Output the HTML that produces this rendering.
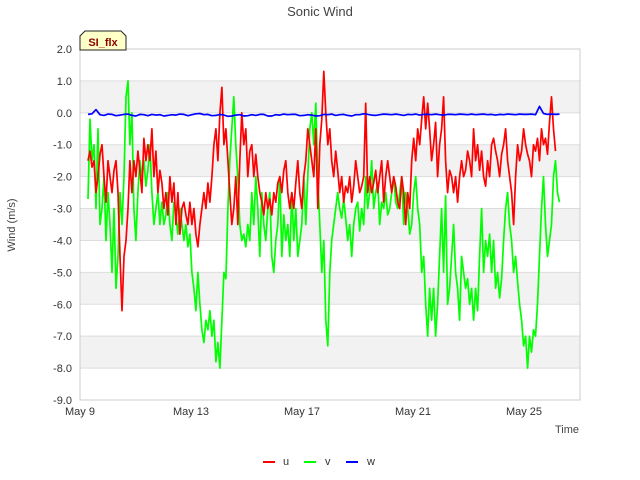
<!DOCTYPE html>
<html><head><meta charset="utf-8"><style>
body{margin:0;background:#fff;}
svg{display:block;font-family:"Liberation Sans","DejaVu Sans",sans-serif;}
</style></head><body>
<svg id="chart" width="640" height="480">
<text x="320" y="16" text-anchor="middle" font-size="13" fill="#444">Sonic Wind</text>
<g id="bands"></g>
<g id="grid"></g>
<rect x="80" y="49" width="500" height="351" fill="none" stroke="#ccc"/>
<g id="yticks"></g>
<g id="xticks"></g>
<g id="series"></g>
<text x="15" y="225" transform="rotate(-90 15 225)" text-anchor="middle" font-size="11" fill="#444">Wind (m/s)</text>
<text x="579" y="433" text-anchor="end" font-size="11" fill="#444">Time</text>
<g>
<path d="M80,50 L80,36 L85,31 L121,31 L126,36 L126,50 Z" fill="#ffffc8" stroke="#222" stroke-width="1"/>
<text x="103" y="46" text-anchor="middle" font-size="11" font-weight="bold" fill="#8b0000">SI_flx</text>
</g>
<g>
<g><line x1="263" y1="462" x2="275" y2="462" stroke="#f00" stroke-width="2"/><text x="283" y="465" font-size="11" fill="#333">u</text></g>
<g><line x1="304" y1="462" x2="316" y2="462" stroke="#0f0" stroke-width="2"/><text x="325" y="465" font-size="11" fill="#333">v</text></g>
<g><line x1="346" y1="462" x2="358" y2="462" stroke="#00f" stroke-width="2"/><text x="367" y="465" font-size="11" fill="#333">w</text></g>
</g>
</svg>
<script>
const yTicks=[2,1,0,-1,-2,-3,-4,-5,-6,-7,-8,-9];
const xTickDays=[0,4,8,12,16];
const xTickLabels=["May 9","May 13","May 17","May 21","May 25"];
const t0=0.288, dt=0.072, wdt=0.144;
const uVals=[-1.5,-1.2,-1.7,-1.5,-2.5,-2.0,-1.3,-1.0,-2.0,-2.8,-1.5,-2.0,-2.5,-1.8,-1.5,-2.5,-4.5,-6.2,-4.5,-4.0,-3.0,-1.5,-2.5,-1.5,-2.0,-1.2,-1.8,-2.5,-0.8,-1.5,-1.0,-1.5,-0.5,-2.0,-1.2,-2.5,-1.8,-2.2,-3.0,-2.5,-3.2,-2.0,-2.8,-2.2,-3.5,-2.5,-3.8,-3.0,-2.8,-3.2,-3.5,-2.8,-3.5,-3.0,-3.8,-4.2,-3.5,-3.0,-2.5,-3.0,-2.2,-2.8,-2.0,-1.0,-0.5,-1.5,0.0,0.8,-1.0,-0.5,-1.5,-2.5,-3.5,-3.0,-2.0,-3.5,-1.5,0.0,-1.0,-0.5,-2.0,-1.2,-1.0,-2.0,-1.3,-2.0,-2.5,-2.8,-3.2,-2.5,-3.0,-2.7,-3.2,-2.5,-2.8,-2.2,-2.0,-2.5,-1.8,-1.5,-2.5,-3.0,-2.5,-3.0,-2.2,-1.5,-2.5,-3.0,-2.0,-1.5,-0.5,-1.0,-1.5,-2.0,-0.5,-3.0,-1.0,-0.2,1.3,0.0,-1.0,-0.5,-1.5,-2.0,-1.2,-1.8,-2.5,-2.0,-2.8,-2.3,-2.5,-2.0,-2.8,-2.3,-1.5,-2.0,-2.5,-2.3,-2.0,0.3,-2.5,-2.0,-2.5,-2.2,-1.8,-2.5,-2.0,-1.5,-2.8,-2.0,-1.5,-2.0,-2.5,-2.0,-2.3,-2.8,-3.0,-2.0,-2.5,-3.5,-2.5,-3.0,-1.5,-0.8,-1.5,-0.5,-1.0,-0.2,0.5,-0.5,0.3,-0.5,-1.5,-1.0,-0.3,-2.0,-1.0,-0.5,0.5,-1.5,-2.5,-1.8,-2.0,-2.5,-2.0,-2.8,-2.0,-1.5,-2.0,-1.8,-1.2,-1.5,-2.0,-0.5,-1.5,-1.0,-1.8,-1.2,-2.0,-2.3,-1.5,-2.0,-1.0,-0.8,-1.2,-1.5,-2.0,-1.3,-1.0,-0.5,-1.5,-2.0,-2.5,-3.5,-2.0,-1.0,-1.5,-1.2,-0.5,-1.0,-1.3,-1.5,-2.0,-1.0,-1.2,-0.8,-1.5,-0.5,-1.0,-0.8,-1.3,-0.3,0.5,-0.5,-1.2];
const vVals=[-2.7,-0.2,-1.5,-1.0,-3.0,-0.5,-3.5,-3.0,-2.0,-4.0,-2.5,-3.5,-5.0,-3.0,-5.5,-4.5,-2.5,-3.5,-2.0,0.5,1.0,-1.0,0.0,-3.0,-4.0,-2.5,-1.5,-2.0,-1.5,-2.3,-1.8,-1.0,-2.5,-3.5,-3.0,-2.5,-3.5,-2.8,-3.5,-3.2,-2.5,-3.5,-4.0,-2.8,-3.2,-3.8,-3.0,-3.5,-4.0,-3.5,-4.2,-3.8,-5.0,-5.5,-6.2,-5.0,-6.0,-6.8,-7.2,-6.5,-6.8,-6.2,-7.0,-6.5,-7.8,-7.2,-8.0,-6.5,-5.0,-5.2,-3.0,-1.5,-0.5,0.5,-1.0,-2.0,-3.5,-4.0,-3.8,-4.2,-3.5,-4.0,-2.5,-3.5,-2.0,-3.0,-4.5,-2.5,-3.5,-4.0,-3.0,-2.5,-4.5,-5.0,-4.0,-3.5,-2.0,-4.5,-3.2,-4.0,-3.5,-4.5,-2.5,-4.0,-3.0,-4.5,-4.0,-3.5,-2.0,-3.5,-2.0,-0.5,0.0,-1.0,0.3,-2.0,-3.5,-5.0,-4.0,-6.5,-7.3,-5.0,-4.0,-3.5,-3.0,-2.5,-3.0,-3.3,-2.7,-3.3,-4.0,-3.5,-4.5,-3.5,-3.0,-2.8,-3.7,-3.0,-3.5,-2.0,-3.0,-2.5,-1.5,-3.0,-2.5,-2.2,-3.5,-2.8,-3.0,-2.5,-3.2,-3.0,-2.5,-2.0,-2.8,-3.0,-2.5,-2.0,-3.5,-2.5,-3.0,-3.8,-3.5,-2.5,-2.0,-3.0,-3.5,-5.0,-4.5,-6.0,-7.0,-5.5,-6.5,-5.5,-7.0,-6.0,-4.5,-3.0,-5.0,-2.6,-6.0,-5.5,-4.5,-3.5,-5.0,-5.5,-6.5,-4.5,-5.0,-5.5,-5.2,-6.0,-5.5,-6.5,-5.5,-6.2,-4.5,-3.0,-5.0,-4.0,-4.5,-3.8,-5.0,-4.0,-5.5,-5.0,-5.8,-5.2,-4.0,-3.0,-2.5,-3.5,-4.0,-5.0,-4.5,-5.3,-6.0,-6.5,-7.3,-7.0,-8.0,-7.0,-7.5,-6.8,-7.0,-6.0,-4.5,-3.0,-2.0,-3.5,-4.5,-4.0,-3.5,-2.0,-1.5,-2.5,-2.8];
const wVals=[-0.05,-0.03,0.1,-0.06,-0.08,-0.04,-0.05,-0.09,-0.07,-0.05,-0.04,-0.08,-0.1,-0.05,-0.06,-0.09,-0.05,-0.07,-0.06,-0.1,-0.08,-0.06,-0.07,-0.04,-0.05,-0.09,-0.06,-0.03,-0.02,-0.06,-0.05,-0.09,-0.08,-0.05,-0.07,-0.11,-0.1,-0.07,-0.06,-0.1,-0.09,-0.06,-0.08,-0.05,-0.05,-0.1,-0.1,-0.06,-0.07,-0.04,-0.06,-0.05,-0.05,-0.09,-0.08,-0.06,-0.07,-0.1,-0.09,-0.05,-0.06,-0.04,-0.08,-0.06,-0.05,-0.08,-0.1,-0.06,-0.06,-0.03,-0.05,-0.07,-0.08,-0.06,-0.04,-0.05,-0.06,-0.04,-0.06,-0.08,-0.05,-0.06,-0.04,-0.07,-0.05,-0.05,-0.06,-0.04,-0.06,-0.07,-0.05,-0.05,-0.06,-0.04,-0.05,-0.06,-0.04,-0.06,-0.05,-0.04,-0.06,-0.05,-0.07,-0.05,-0.06,-0.04,-0.05,-0.06,-0.04,-0.05,-0.05,-0.04,-0.06,0.2,-0.02,-0.05,-0.04,-0.05,-0.04];
const X0=80,XPD=27.75,Y0=49,YMAX=2,YPU=351/11;
const xs=d=>X0+d*XPD, ys=v=>Y0+(YMAX-v)*YPU;
const NS="http://www.w3.org/2000/svg";
function mk(tag,parent){const e=document.createElementNS(NS,tag);document.getElementById(parent).appendChild(e);return e;}
for(let i=0;i<yTicks.length-1;i++){
 if(yTicks[i]%2!==0){const r=mk('rect','bands');
 r.setAttribute('x',80);r.setAttribute('y',ys(yTicks[i]));r.setAttribute('width',500);r.setAttribute('height',ys(yTicks[i+1])-ys(yTicks[i]));r.setAttribute('fill','#f2f2f2');
 
 }
}
yTicks.forEach(v=>{
 const l=mk('line','grid');l.setAttribute('x1',80);l.setAttribute('x2',580);l.setAttribute('y1',ys(v));l.setAttribute('y2',ys(v));l.setAttribute('stroke','#ddd');
 
 
 const t=mk('text','yticks');t.setAttribute('x',72);t.setAttribute('y',ys(v)+4);t.setAttribute('text-anchor','end');t.setAttribute('font-size','11');t.setAttribute('fill','#333');t.textContent=v.toFixed(1);
 
 
});
xTickDays.forEach((d,i)=>{
 const t=mk('text','xticks');t.setAttribute('x',xs(d));t.setAttribute('y',415);t.setAttribute('text-anchor','middle');t.setAttribute('font-size','11');t.setAttribute('fill','#333');t.textContent=xTickLabels[i];
 
 
});
function line(vals,step,color,name){
 const p=mk('polyline','series');
 p.setAttribute('points',vals.map((v,i)=>xs(t0+i*step).toFixed(1)+','+ys(v).toFixed(1)).join(' '));
 p.setAttribute('fill','none');p.setAttribute('stroke',color);p.setAttribute('stroke-width','1.7');p.setAttribute('stroke-linejoin','round');
 
 
}
line(vVals,dt,'#00ff00','series-v');
line(uVals,dt,'#ff0000','series-u');
line(wVals,wdt,'#0000ff','series-w');
</script>
</body></html>
